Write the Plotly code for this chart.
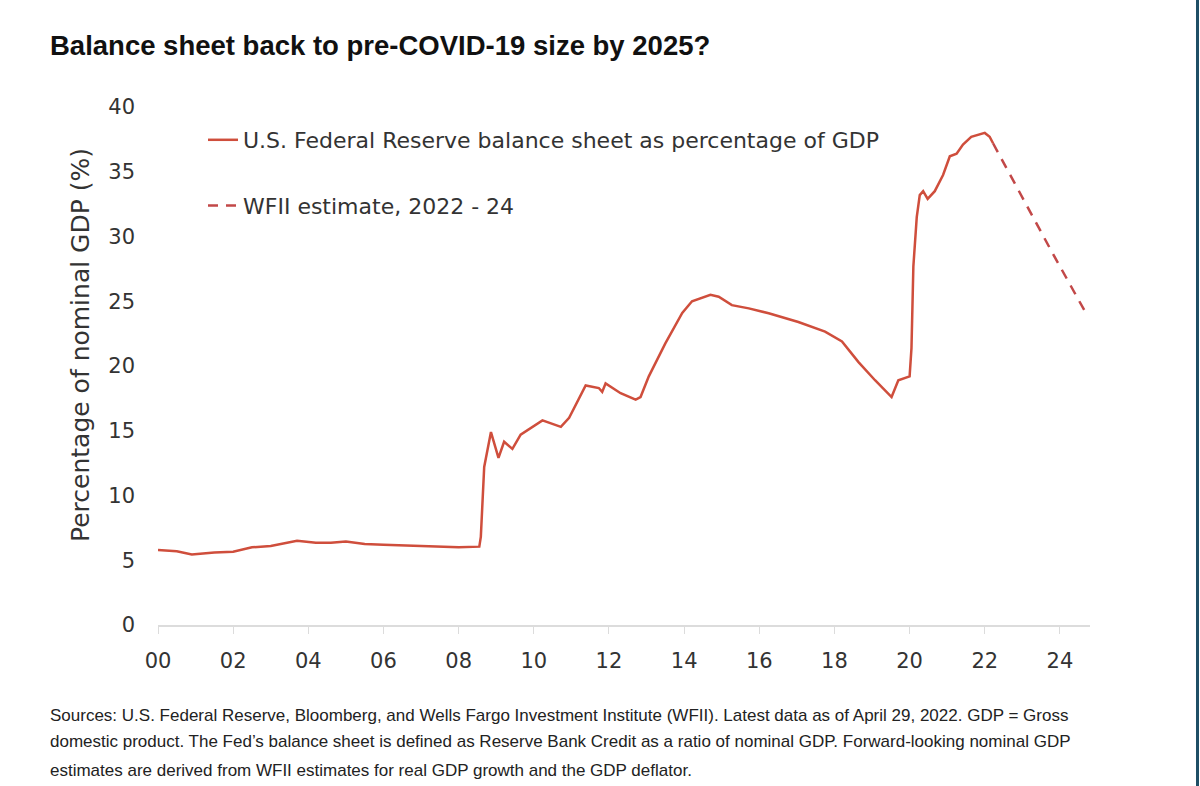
import plotly.graph_objects as go

# Fed balance sheet as % of nominal GDP
hist_years = [2000.0, 2000.5, 2000.9, 2001.5, 2002.0, 2002.5, 2003.0, 2003.4, 2003.7, 2004.2,
              2004.6, 2005.0, 2005.5, 2006.0, 2006.5, 2007.0, 2007.5, 2008.0, 2008.55,
              2008.59, 2008.68, 2008.86, 2009.06, 2009.21, 2009.43, 2009.65, 2010.23,
              2010.72, 2010.94, 2011.38, 2011.73, 2011.82, 2011.91, 2012.31, 2012.71,
              2012.84, 2013.06, 2013.5, 2013.95, 2014.21, 2014.7, 2014.92, 2015.27,
              2015.72, 2016.25, 2017.04, 2017.75, 2018.2, 2018.64, 2019.08, 2019.52,
              2019.7, 2020.0, 2020.05, 2020.1, 2020.19, 2020.27, 2020.36, 2020.48,
              2020.67, 2020.89, 2021.07, 2021.25, 2021.42, 2021.64, 2022.0, 2022.13, 2022.22]
hist_values = [5.8, 5.7, 5.45, 5.6, 5.65, 6.0, 6.1, 6.3, 6.5, 6.35,
               6.35, 6.45, 6.25, 6.2, 6.15, 6.1, 6.1, 6.0, 6.05,
               6.8, 12.2, 14.9, 12.9, 14.15, 13.6, 14.7, 15.8,
               15.3, 16.0, 18.5, 18.3, 18.0, 18.65, 17.9, 17.4,
               17.6, 19.2, 21.75, 24.1, 25.0, 25.5, 25.35, 24.7,
               24.45, 24.07, 23.4, 22.65, 21.9, 20.3, 18.9, 17.6,
               18.9, 19.2, 21.4, 27.7, 31.5, 33.2, 33.5, 32.9,
               33.5, 34.75, 36.2, 36.4, 37.1, 37.7, 38.0, 37.7, 37.2]

est_years = [2022.22, 2023.0, 2023.75, 2024.65]
est_values = [37.2, 33.0, 29.0, 24.3]

x_tick_vals = [2000, 2002, 2004, 2006, 2008, 2010, 2012, 2014, 2016, 2018, 2020, 2022, 2024]
x_tick_text = ["00", "02", "04", "06", "08", "10", "12", "14", "16", "18", "20", "22", "24"]
y_tick_vals = [0, 5, 10, 15, 20, 25, 30, 35, 40]

footnote_lines = [
    "Sources: U.S. Federal Reserve, Bloomberg, and Wells Fargo Investment Institute (WFII). "
    "Latest data as of April 29, 2022. GDP = Gross",
    "domestic product. The Fed\u2019s balance sheet is defined as Reserve Bank Credit as a ratio "
    "of nominal GDP. Forward-looking nominal GDP",
    "estimates are derived from WFII estimates for real GDP growth and the GDP deflator.",
]
footnote_y_px = [715, 742, 770]

RED = "#cf4e3c"
RED_D = "#c24848"
FONT = "DejaVu Sans, Noto Sans, sans-serif"
FOOT = "Liberation Sans, Arial, sans-serif"

# plot area geometry in pixels
L, R, T, B = 158, 110, 107, 161
PW, PH = 1200 - L - R, 786 - T - B

fig = go.Figure()
fig.add_trace(go.Scatter(
    x=hist_years, y=hist_values, mode="lines",
    name="U.S. Federal Reserve balance sheet as percentage of GDP",
    line=dict(color=RED, width=2.5), legendgroup="a"))
fig.add_trace(go.Scatter(
    x=est_years, y=est_values, mode="lines",
    name="WFII estimate, 2022 - 24",
    line=dict(color=RED_D, width=2.5, dash="10px,8px"), legendgroup="b"))

fig.update_layout(
    width=1200, height=786,
    paper_bgcolor="white", plot_bgcolor="white",
    margin=dict(l=L, r=R, t=T, b=B),
    showlegend=True,
    legend=dict(x=(203 - L) / PW, y=1 - 12 / PH, xanchor="left", yanchor="top",
                font=dict(family=FONT, size=22, color="#333333"),
                tracegroupgap=34, traceorder="grouped",
                bgcolor="rgba(0,0,0,0)", itemwidth=30),
    font=dict(family=FONT, color="#333333"),
    xaxis=dict(range=[2000, 2024.8], tickvals=x_tick_vals, ticktext=x_tick_text,
               showgrid=False, zeroline=False, showline=True, linecolor="#dcdcdc",
               linewidth=1.5, ticks="outside", ticklen=7, tickcolor="#dcdcdc",
               tickfont=dict(family=FONT, size=21, color="#333333"),
               ticklabelstandoff=9, automargin=False),
    yaxis=dict(range=[0, 40], tickvals=y_tick_vals, showgrid=False, zeroline=False,
               showline=False, ticks="", tickfont=dict(family=FONT, size=21, color="#333333"),
               ticklabelstandoff=22, automargin=False),
)

# y-axis title
fig.add_annotation(
    text="Percentage of nominal GDP (%)", textangle=-90,
    xref="paper", yref="paper", x=(80 - L) / PW, y=(T + PH - 345) / PH,
    xanchor="center", yanchor="middle", showarrow=False,
    font=dict(family=FONT, size=25, color="#333333"))

fig.add_annotation(
    text="<b>Balance sheet back to pre-COVID-19 size by 2025?</b>",
    xref="paper", yref="paper", x=(48 - L) / PW, y=1 + (T - 45) / PH,
    xanchor="left", yanchor="middle",
    showarrow=False, font=dict(family=FOOT, size=27.5, color="#111111"))

for line_text, ypx in zip(footnote_lines, footnote_y_px):
    fig.add_annotation(
        text=line_text, xref="paper", yref="paper",
        x=(48 - L) / PW, y=-(ypx - (T + PH)) / PH, xanchor="left", yanchor="middle",
        align="left", showarrow=False,
        font=dict(family=FOOT, size=17, color="#222222"))

fig.add_shape(type="line", xref="paper", yref="paper",
              x0=(1197.5 - L) / PW, x1=(1197.5 - L) / PW,
              y0=-B / PH, y1=1 + T / PH, line=dict(color="#1f4f66", width=3))

fig.write_html("out.html", config={"displayModeBar": False},
               post_script="document.body.style.margin='0';document.body.style.padding='0';")
